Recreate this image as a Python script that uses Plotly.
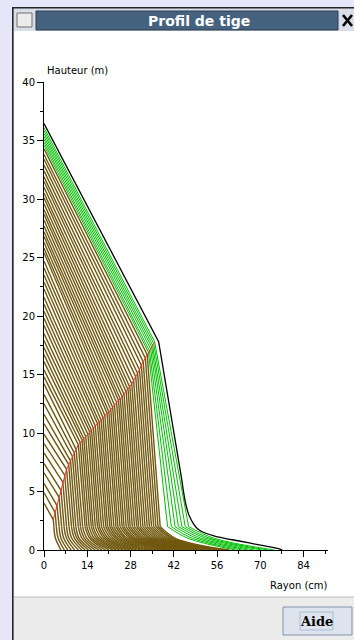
import plotly.graph_objects as go

# ---------------- data ----------------
# one stem profile per year: top height (m), crown base (cm, m),
# stem radius at 2 m and 1 m, and radius at ground (cm)
top_height = [4.0, 4.9, 5.7, 6.6, 7.4, 8.3, 9.1, 9.9, 10.8, 11.6, 12.5, 13.3, 14.2, 14.8,
              15.4, 16.1, 16.7, 17.3, 17.9, 18.5, 19.2, 19.8, 20.4, 21.0, 21.6, 22.3, 22.9,
              23.5, 24.1, 24.7, 25.4, 25.8, 26.3, 26.8, 27.2, 27.7, 28.2, 28.7, 29.1, 29.6,
              30.1, 30.5, 31.0, 31.5, 31.9, 32.4, 32.9, 33.4, 33.8, 34.3,
              34.6, 34.85, 35.1, 35.35, 35.6, 35.85, 36.1]
crown_radius = [3.0, 3.6, 4.2, 4.9, 5.5, 6.1, 6.7, 7.3, 8.0, 8.6, 9.2, 9.8, 10.4, 11.1, 11.7,
                12.3, 12.9, 13.5, 14.2, 14.8, 15.4, 16.0, 16.6, 17.3, 17.9, 18.5, 19.1, 19.7,
                20.4, 21.0, 21.6, 22.2, 22.8, 23.5, 24.1, 24.7, 25.3, 25.9, 26.6, 27.2, 27.8,
                28.4, 29.0, 29.7, 30.3, 30.9, 31.5, 32.1, 32.8, 33.4,
                33.8, 34.15, 34.5, 34.85, 35.15, 35.5, 35.8]
crown_height = [2.6, 3.2, 3.8, 4.5, 5.1, 5.8, 6.4, 6.9, 7.3, 7.6, 8.0, 8.3, 8.6, 9.0, 9.2,
                9.4, 9.5, 9.7, 9.9, 10.1, 10.2, 10.4, 10.6, 10.8, 10.9, 11.1, 11.3, 11.5,
                11.7, 11.8, 12.0, 12.2, 12.4, 12.6, 12.8, 12.9, 13.1, 13.3, 13.5, 13.7, 13.9,
                14.2, 14.5, 14.8, 15.1, 15.4, 15.8, 16.1, 16.4, 16.7,
                16.9, 17.0, 17.2, 17.35, 17.5, 17.65, 17.8]
radius_2m = [3.2, 4.0, 4.9, 5.7, 6.5, 7.3, 8.1, 8.9, 9.6, 10.3, 11.1, 11.8, 12.5, 13.3, 13.9,
             14.6, 15.3, 15.9, 16.6, 17.3, 17.9, 18.6, 19.3, 20.0, 20.6, 21.3, 21.9, 22.6,
             23.3, 23.9, 24.6, 25.3, 25.9, 26.6, 27.3, 27.9, 28.6, 29.3, 30.0, 30.6, 31.3,
             32.0, 32.7, 33.4, 34.1, 34.8, 35.5, 36.2, 36.9, 37.6,
             40.0, 41.2, 42.4, 43.5, 44.6, 45.7, 46.8]
radius_1m = [3.7, 4.6, 5.5, 6.4, 7.3, 8.1, 9.0, 9.9, 10.7, 11.4, 12.3, 13.1, 13.9, 14.8, 15.5,
             16.3, 17.1, 17.8, 18.6, 19.4, 20.1, 20.8, 21.6, 22.4, 23.2, 23.9, 24.7, 25.4,
             26.2, 26.9, 27.8, 28.5, 29.2, 30.0, 30.8, 31.5, 32.3, 33.1, 33.9, 34.6, 35.4,
             36.2, 37.0, 37.8, 38.6, 39.4, 40.1, 41.0, 41.7, 42.5,
             46.6, 48.0, 49.5, 50.9, 52.4, 53.7, 55.1]
base_radius = [5.5, 6.6, 7.7, 8.8, 9.9, 11.1, 12.2, 13.3, 14.4, 15.5, 16.6, 17.7, 18.8, 19.9,
               21.1, 22.2, 23.3, 24.4, 25.5, 26.6, 27.7, 28.8, 29.9, 31.1, 32.2, 33.3, 34.4,
               35.5, 36.6, 37.7, 38.9, 40.0, 41.1, 42.2, 43.3, 44.4, 45.5, 46.6, 47.7, 48.9,
               50.0, 51.1, 52.2, 53.3, 54.4, 55.5, 56.6, 57.8, 58.9, 60.0,
               62.0, 64.0, 66.0, 68.0, 70.5, 72.5, 74.5]
period = ["ancien"] * 50 + ["récent"] * 7

# current (final) profile
final_radius = [0.0, 37.1, 44.6, 46.9, 50.2, 56.7, 63.2, 69.6, 76.1, 77.1]
final_height = [36.45, 17.8, 6.0, 3.0, 1.7, 1.1, 0.77, 0.43, 0.1, 0.0]

x_ticks = [0, 14, 28, 42, 56, 70, 84]
y_ticks = [0, 5, 10, 15, 20, 25, 30, 35, 40]

# ---------------- figure ----------------
colors = {"ancien": "rgb(112,88,14)", "récent": "rgb(0,190,0)"}
widths = {"ancien": 1.4, "récent": 1.0}
fig = go.Figure()

for i in range(len(top_height)):
    c = colors[period[i]]
    w = widths[period[i]]
    fig.add_trace(go.Scatter(
        x=[0, crown_radius[i], radius_2m[i]],
        y=[top_height[i], crown_height[i], 2.0],
        mode="lines", line=dict(color=c, width=w), hoverinfo="skip", showlegend=False))
    fig.add_trace(go.Scatter(
        x=[radius_2m[i], radius_1m[i], base_radius[i]],
        y=[2.0, 1.0, 0.0],
        mode="lines", line=dict(color=c, width=w, shape="spline"),
        hoverinfo="skip", showlegend=False))

# crown base trajectory
fig.add_trace(go.Scatter(x=crown_radius, y=crown_height, mode="lines",
                         line=dict(color="rgb(255,40,40)", width=1),
                         hoverinfo="skip", showlegend=False))
# final profile
fig.add_trace(go.Scatter(x=final_radius[:3], y=final_height[:3], mode="lines",
                         line=dict(color="black", width=1.3), hoverinfo="skip", showlegend=False))
fig.add_trace(go.Scatter(x=final_radius[2:], y=final_height[2:], mode="lines",
                         line=dict(color="black", width=1.3, shape="spline"),
                         hoverinfo="skip", showlegend=False))

# ---------------- layout / window chrome ----------------
L, R, T, B = 44, 328, 82, 550      # plot area in pixels
XMAX = (R - L) / 3.09


def px(x):
    return (x - L) / (R - L)


def py(y):
    return (B - y) / (B - T)


def rect(x0, y0, x1, y1, fill, line=None, lw=1):
    return dict(type="rect", xref="paper", yref="paper", layer="below",
                x0=px(x0), x1=px(x1), y0=py(y0), y1=py(y1),
                fillcolor=fill, line=dict(color=line or fill, width=lw if line else 0))


shapes = [
    rect(12, 7, 354, 31, "#d9dde8"),
    rect(14, 31, 354, 597, "white"),
    rect(14, 597, 354, 640, "#ececec"),
    rect(12, 7, 13.6, 640, "#262626"),
    rect(12, 7, 354, 8.4, "#262626"),
    rect(17, 13, 32, 27, "#ebebeb", "#6e6e6e"),
    rect(36, 11, 338, 30, "#45627f", "#2a3d52"),
    rect(283, 607, 352, 635, "#dde4ed", "#8193aa"),
    rect(300, 612, 333, 630, "rgba(0,0,0,0)", "#a9bdd8"),
    dict(type="line", xref="paper", yref="paper", x0=px(14), x1=px(354), y0=py(597), y1=py(597),
         line=dict(color="#bdbdbd", width=1)),
    dict(type="line", xref="paper", yref="paper", x0=px(343), x1=px(352), y0=py(15), y1=py(26),
         line=dict(color="black", width=2.6)),
    dict(type="line", xref="paper", yref="paper", x0=px(343), x1=px(352), y0=py(26), y1=py(15),
         line=dict(color="black", width=2.6)),
]


def label(text, x, y, size, family="DejaVu Sans", color="black", xanchor="center"):
    return dict(text=text, x=px(x), y=py(y), xref="paper", yref="paper",
                xanchor=xanchor, yanchor="middle", showarrow=False,
                font=dict(family=family, size=size, color=color))


annotations = [
    label("<b>Profil de tige</b>", 199, 20.5, 14, color="white"),
    label("Hauteur (m)", 45, 70, 10, xanchor="left"),
    label("Rayon (cm)", 330, 585, 10, xanchor="right"),
    label("<b>Aide</b>", 316.5, 621.5, 13, family="DejaVu Serif"),
]

axis_common = dict(showgrid=False, zeroline=False, showline=True, linecolor="black",
                   linewidth=1, ticks="outside", ticklen=6, tickcolor="black",
                   tickfont=dict(family="DejaVu Sans", size=10, color="black"))

fig.update_layout(
    width=354, height=640,
    margin=dict(l=L, r=354 - R, t=T, b=640 - B, pad=0),
    paper_bgcolor="#e6e6f8", plot_bgcolor="rgba(0,0,0,0)",
    shapes=shapes, annotations=annotations,
    xaxis=dict(range=[0, XMAX], tickvals=x_ticks, **axis_common,
               minor=dict(dtick=7, tick0=0, ticks="outside", ticklen=3, tickcolor="black")),
    yaxis=dict(range=[0, 40], tickvals=y_ticks, **axis_common,
               minor=dict(dtick=2.5, tick0=0, ticks="outside", ticklen=3, tickcolor="black")),
)

fig.write_html("out.html", config={"displayModeBar": False},
               post_script="document.body.style.margin='0';document.body.style.overflow='hidden';")
